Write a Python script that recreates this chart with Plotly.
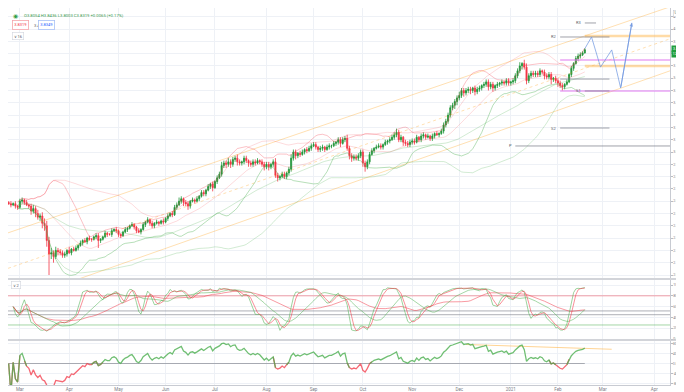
import pandas as pd
import numpy as np
import plotly.graph_objects as go
from plotly.subplots import make_subplots

# ---------------- data (daily bars, Feb 24 2020 -> Feb 17 2021) ----------------
START = "2020-02-24"
first_open = 2.59
close = [
    2.58, 2.57, 2.58, 2.56, 2.55,
    2.60, 2.61, 2.59, 2.57, 2.56,
    2.52, 2.54, 2.50, 2.47, 2.48,
    2.42, 2.40, 2.28, 2.17, 2.18,
    2.15, 2.20, 2.19, 2.18, 2.16,
    2.17, 2.20, 2.18, 2.21, 2.20,
    2.22, 2.24, 2.26, 2.28, 2.27,
    2.30, 2.29, 2.29, 2.31, 2.32,
    2.28, 2.29, 2.31, 2.34, 2.33,
    2.33, 2.36, 2.37, 2.36, 2.33,
    2.32, 2.35, 2.37, 2.38, 2.40,
    2.41, 2.39, 2.36, 2.35, 2.37,
    2.41, 2.43, 2.45, 2.42, 2.40,
    2.42, 2.43, 2.42, 2.44, 2.43,
    2.46, 2.48, 2.50, 2.49, 2.55,
    2.57, 2.60, 2.62, 2.59, 2.58,
    2.56, 2.60, 2.61, 2.60, 2.62,
    2.64, 2.67, 2.66, 2.69, 2.72,
    2.74, 2.71, 2.76, 2.79, 2.82,
    2.89, 2.91, 2.90, 2.92, 2.90,
    2.94, 2.95, 2.92, 2.91, 2.92,
    2.95, 2.93, 2.91, 2.90, 2.92,
    2.91, 2.93, 2.92, 2.90, 2.88,
    2.90, 2.88, 2.90, 2.92, 2.81,
    2.79, 2.80, 2.82, 2.80, 2.83,
    2.86, 2.95, 3.00, 2.97, 2.99,
    2.98, 3.00, 3.02, 3.01, 3.03,
    3.05, 3.06, 3.04, 3.02, 3.03,
    3.04, 3.02, 3.04, 3.05, 3.05,
    3.07, 3.08, 3.10, 3.07, 3.10,
    3.11, 3.03, 2.97, 2.95, 2.96,
    2.95, 2.97, 3.00, 2.91, 2.88,
    2.92, 2.98, 3.01, 3.03, 3.04,
    3.05, 3.04, 3.06, 3.08, 3.09,
    3.10, 3.12, 3.14, 3.16, 3.10,
    3.12, 3.08, 3.07, 3.06, 3.08,
    3.09, 3.08, 3.12, 3.10, 3.13,
    3.14, 3.12, 3.13, 3.11, 3.13,
    3.15, 3.14, 3.15, 3.17, 3.22,
    3.25, 3.30, 3.36, 3.38, 3.41,
    3.44, 3.46, 3.50, 3.48, 3.50,
    3.51, 3.50, 3.52, 3.49, 3.51,
    3.52, 3.54, 3.55, 3.57, 3.53,
    3.55, 3.52, 3.54, 3.55, 3.56,
    3.57, 3.56, 3.58, 3.56, 3.57,
    3.58, 3.62, 3.66, 3.70, 3.72,
    3.69, 3.58, 3.62, 3.64, 3.63,
    3.64, 3.63, 3.66, 3.65, 3.62,
    3.61, 3.63, 3.59, 3.60, 3.58,
    3.56, 3.54, 3.53, 3.55, 3.57,
    3.63, 3.68, 3.72, 3.76, 3.78,
    3.79, 3.8054, 3.8319,
]
up_wick = [
    0.01, 0.02, 0.01, 0.02, 0.01,
    0.02, 0.02, 0.01, 0.02, 0.01,
    0.02, 0.03, 0.02, 0.03, 0.02,
    0.03, 0.04, 0.04, 0.03, 0.04,
    0.02, 0.03, 0.02, 0.02, 0.02,
    0.02, 0.01, 0.03, 0.01, 0.02,
    0.02, 0.01, 0.02, 0.01, 0.02,
    0.01, 0.02, 0.01, 0.01, 0.02,
    0.02, 0.01, 0.01, 0.02, 0.01,
    0.01, 0.02, 0.01, 0.02, 0.01,
    0.01, 0.01, 0.02, 0.01, 0.01,
    0.02, 0.01, 0.01, 0.02, 0.01,
    0.02, 0.01, 0.02, 0.01, 0.02,
    0.01, 0.02, 0.01, 0.01, 0.02,
    0.01, 0.02, 0.01, 0.02, 0.02,
    0.02, 0.03, 0.02, 0.01, 0.02,
    0.02, 0.01, 0.02, 0.01, 0.02,
    0.01, 0.02, 0.02, 0.01, 0.02,
    0.01, 0.02, 0.01, 0.02, 0.02,
    0.03, 0.02, 0.02, 0.03, 0.02,
    0.02, 0.02, 0.03, 0.02, 0.01,
    0.02, 0.02, 0.01, 0.02, 0.02,
    0.02, 0.02, 0.01, 0.02, 0.02,
    0.02, 0.02, 0.01, 0.02, 0.03,
    0.02, 0.01, 0.02, 0.02, 0.01,
    0.02, 0.03, 0.02, 0.02, 0.01,
    0.02, 0.02, 0.01, 0.02, 0.02,
    0.02, 0.02, 0.02, 0.01, 0.02,
    0.02, 0.01, 0.02, 0.02, 0.01,
    0.02, 0.01, 0.02, 0.02, 0.02,
    0.02, 0.03, 0.02, 0.02, 0.02,
    0.02, 0.02, 0.02, 0.02, 0.02,
    0.02, 0.02, 0.02, 0.01, 0.02,
    0.02, 0.02, 0.01, 0.02, 0.01,
    0.02, 0.02, 0.02, 0.03, 0.02,
    0.02, 0.01, 0.02, 0.02, 0.02,
    0.02, 0.02, 0.02, 0.01, 0.02,
    0.02, 0.01, 0.02, 0.01, 0.02,
    0.01, 0.02, 0.01, 0.02, 0.02,
    0.02, 0.02, 0.02, 0.02, 0.02,
    0.02, 0.03, 0.02, 0.02, 0.02,
    0.02, 0.02, 0.01, 0.02, 0.02,
    0.02, 0.01, 0.02, 0.02, 0.02,
    0.02, 0.02, 0.01, 0.02, 0.01,
    0.02, 0.01, 0.02, 0.02, 0.01,
    0.02, 0.02, 0.02, 0.03, 0.01,
    0.03, 0.03, 0.02, 0.02, 0.02,
    0.02, 0.02, 0.02, 0.01, 0.02,
    0.02, 0.02, 0.02, 0.01, 0.02,
    0.02, 0.02, 0.02, 0.01, 0.02,
    0.01, 0.02, 0.01, 0.02, 0.02,
    0.02, 0.0137, 0.0117,
]
lo_wick = [
    0.01, 0.02, 0.01, 0.02, 0.02,
    0.01, 0.02, 0.02, 0.01, 0.02,
    0.03, 0.02, 0.03, 0.02, 0.03,
    0.04, 0.04, 0.05, 0.17, 0.04,
    0.05, 0.02, 0.03, 0.02, 0.02,
    0.02, 0.02, 0.01, 0.02, 0.01,
    0.01, 0.02, 0.01, 0.02, 0.01,
    0.02, 0.01, 0.02, 0.01, 0.02,
    0.06, 0.02, 0.01, 0.01, 0.02,
    0.01, 0.02, 0.01, 0.02, 0.02,
    0.02, 0.01, 0.01, 0.02, 0.01,
    0.01, 0.02, 0.02, 0.01, 0.02,
    0.01, 0.02, 0.01, 0.02, 0.02,
    0.02, 0.01, 0.02, 0.01, 0.02,
    0.01, 0.02, 0.01, 0.02, 0.01,
    0.02, 0.01, 0.02, 0.03, 0.02,
    0.03, 0.02, 0.01, 0.02, 0.01,
    0.02, 0.01, 0.02, 0.02, 0.01,
    0.02, 0.03, 0.01, 0.02, 0.01,
    0.02, 0.02, 0.03, 0.02, 0.03,
    0.02, 0.02, 0.03, 0.02, 0.02,
    0.02, 0.02, 0.03, 0.02, 0.02,
    0.02, 0.01, 0.02, 0.02, 0.03,
    0.02, 0.03, 0.02, 0.02, 0.02,
    0.03, 0.02, 0.01, 0.02, 0.02,
    0.02, 0.02, 0.02, 0.03, 0.02,
    0.02, 0.01, 0.02, 0.02, 0.01,
    0.02, 0.01, 0.02, 0.02, 0.02,
    0.02, 0.02, 0.01, 0.02, 0.02,
    0.01, 0.02, 0.02, 0.03, 0.01,
    0.02, 0.02, 0.03, 0.03, 0.02,
    0.02, 0.02, 0.02, 0.03, 0.04,
    0.02, 0.02, 0.01, 0.02, 0.01,
    0.01, 0.02, 0.02, 0.01, 0.02,
    0.02, 0.01, 0.02, 0.02, 0.02,
    0.02, 0.03, 0.02, 0.02, 0.02,
    0.02, 0.02, 0.01, 0.02, 0.02,
    0.02, 0.02, 0.01, 0.02, 0.02,
    0.02, 0.01, 0.02, 0.01, 0.02,
    0.02, 0.02, 0.02, 0.02, 0.03,
    0.03, 0.02, 0.02, 0.03, 0.02,
    0.02, 0.03, 0.02, 0.03, 0.02,
    0.02, 0.02, 0.02, 0.02, 0.03,
    0.02, 0.03, 0.02, 0.02, 0.02,
    0.02, 0.02, 0.02, 0.02, 0.02,
    0.02, 0.02, 0.02, 0.02, 0.03,
    0.02, 0.03, 0.02, 0.02, 0.02,
    0.02, 0.02, 0.02, 0.02, 0.03,
    0.02, 0.02, 0.04, 0.02, 0.02,
    0.03, 0.02, 0.03, 0.02, 0.01,
    0.01, 0.02, 0.02, 0.01, 0.02,
    0.02, 0.01, 0.0051,
]
month_labels = ["Mar", "Apr", "May", "Jun", "Jul", "Aug", "Sep", "Oct", "Nov", "Dec",
                "2021", "Feb", "Mar", "Apr"]
legend_text = "O3.8054 H3.8436 L3.8003 C3.8319 +0.0065 (+0.17%)"
bid_text, spread_text, ask_text = "3.8319", "3.4", "3.8349"

# drawings (anchor points: bar index, price)
chan_up_idx, chan_up_val = [25, 258], [2.50, 3.95]
chan_lo_idx, chan_lo_val = [175, 295], [2.89, 3.66]
pivot_names = ["R3", "R2", "", "S1", "S2", "P"]
pivot_vals = [4.049, 3.935, 3.593, 3.496, 3.195, 3.049]
pivot_from = [257, 246, 246, 257, 246, 226]
pivot_to = [262, 268, 268, 268, 268, 296]
orange_zone = [3.943, 3.700]
orange_from = 257
violet_zone = [3.748, 3.496]
violet_from = 246
proj_idx = [257, 260, 264, 269, 273, 278]
proj_val = [3.84, 3.935, 3.69, 3.83, 3.52, 4.05]
stoch_levels = [80, 52, 45, 26]
stoch_level_colors = ["rgba(242,54,69,0.45)", "rgba(120,123,134,0.6)",
                      "rgba(120,123,134,0.6)", "rgba(76,175,80,0.5)"]
osc_tl_idx, osc_tl_val = [204, 269], [76, 57]

assert len(close) == len(up_wick) == len(lo_wick)

# ---------------- derived ----------------
n = len(close)
idx = np.arange(n)
c = pd.Series(close, dtype=float)
o = c.shift(1)
o.iloc[0] = first_open
h = pd.concat([o, c], axis=1).max(axis=1) + pd.Series(up_wick)
l = pd.concat([o, c], axis=1).min(axis=1) - pd.Series(lo_wick)

dates = pd.bdate_range(START, periods=310)
month_tick_idx = []
prev = dates[0].month
for i, d in enumerate(dates):
    if d.month != prev:
        month_tick_idx.append(i)
        prev = d.month
month_tick_idx = month_tick_idx[:len(month_labels)]

ma20 = c.rolling(20, min_periods=5).mean()
sd20 = c.rolling(20, min_periods=5).std()
ma50 = c.rolling(50, min_periods=5).mean()
sd50 = c.rolling(50, min_periods=5).std()

hh = h.rolling(14, min_periods=3).max()
ll = l.rolling(14, min_periods=3).min()
k_raw = 100 * (c - ll) / (hh - ll)
fast_k = k_raw.rolling(3, min_periods=1).mean()
fast_d = fast_k.rolling(3, min_periods=1).mean()
slow_g = fast_k.rolling(15, min_periods=1).mean()
slow_r = fast_k.rolling(30, min_periods=1).mean()

delta = c.diff().fillna(0)
gain = delta.clip(lower=0).ewm(alpha=1 / 14, adjust=False).mean()
loss = (-delta.clip(upper=0)).ewm(alpha=1 / 14, adjust=False).mean()
rsi = 100 - 100 / (1 + gain / loss.replace(0, np.nan))
rsi = rsi.fillna(50)
osc = (rsi - 50) * 2.4
pos = osc >= 0
g_mask = pos | pos.shift(1, fill_value=False) | pos.shift(-1, fill_value=False)
r_mask = (~pos) | (~pos).shift(1, fill_value=False) | (~pos).shift(-1, fill_value=False)
osc_g = osc.where(g_mask)
osc_r = osc.where(r_mask)

# ---------------- geometry ----------------
BOTTOM = 15
PW, PH = 662, 392 - BOTTOM
X0, X1 = -0.3, 295.0
Y_MAIN = [1.9756, 4.1707]
Y_ST = [0, 109.3]
Y_OS = [-86, 90]

def px(x):
    return x / PW

def py(y):
    return (PH - y) / PH

GREEN = "#22963a"
RED = "#f23645"
PINK = "rgba(242,54,69,0.30)"
PINK2 = "rgba(242,54,69,0.18)"
LGREEN = "rgba(76,175,80,0.40)"
LGREEN2 = "rgba(76,175,80,0.25)"
ORANGE = "rgba(255,152,0,0.30)"
GRAYTXT = "#7a7e88"
FONT = "Roboto"

fig = make_subplots(rows=3, cols=1, shared_xaxes=True, vertical_spacing=0)

def line(xs, ys, color, width=1, dash=None, row=1):
    fig.add_trace(go.Scatter(x=xs, y=ys, mode="lines",
                             line=dict(color=color, width=width, dash=dash),
                             hoverinfo="skip", connectgaps=False), row=row, col=1)

# channel lines
def extend(ix, iv):
    s = (iv[1] - iv[0]) / (ix[1] - ix[0])
    return lambda x: iv[0] + s * (x - ix[0])

fu = extend(chan_up_idx, chan_up_val)
fl = extend(chan_lo_idx, chan_lo_val)
xx = np.array([X0, X1])
line(xx, fu(xx), ORANGE, 1)
line(xx, fl(xx), ORANGE, 1)
line(xx, (fu(xx) + fl(xx)) / 2, "rgba(255,152,0,0.3)", 1, "dot")

# bands
line(idx, ma50 + 2 * sd50, PINK2)
line(idx, ma50 - 2 * sd50, LGREEN2)
line(idx, ma20 + 2 * sd20, PINK)
line(idx, ma20 - 2 * sd20, LGREEN)
line(idx, ma50, LGREEN2)
line(idx, ma20, "rgba(242,54,69,0.18)")

# horizontal zones
for v in orange_zone:
    line([orange_from, X1], [v, v], "rgba(255,183,77,0.5)", 2.5)
for v in violet_zone:
    line([violet_from, X1], [v, v], "rgba(224,120,240,0.5)", 2)

# pivots
for name, v, a, b in zip(pivot_names, pivot_vals, pivot_from, pivot_to):
    line([a, b], [v, v], "rgba(120,123,134,0.7)", 1)
    if name:
        fig.add_annotation(x=a - 0.8, y=v, xref="x", yref="y", text=name,
                           showarrow=False, xanchor="right", yanchor="middle",
                           font=dict(size=4, color="#555a63", family=FONT))

# candles
fig.add_trace(go.Candlestick(x=idx, open=o, high=h, low=l, close=c,
                             increasing=dict(line=dict(color=GREEN, width=0.8), fillcolor=GREEN),
                             decreasing=dict(line=dict(color=RED, width=0.8), fillcolor=RED),
                             whiskerwidth=0, hoverinfo="skip"), row=1, col=1)

# projection path
PROJ = "rgba(110,150,225,0.8)"
line(proj_idx, proj_val, PROJ, 0.9)
fig.add_annotation(x=proj_idx[-1], y=proj_val[-1], ax=proj_idx[-2], ay=proj_val[-2],
                   xref="x", yref="y", axref="x", ayref="y", showarrow=True,
                   arrowhead=2, arrowsize=0.8, arrowwidth=0.9, arrowcolor=PROJ,
                   text="")

# stochastic panel
for v, col in zip(stoch_levels, stoch_level_colors):
    line([X0, X1], [v, v], col, 1, row=2)
line(idx, slow_r, "rgba(242,54,69,0.5)", 1, row=2)
line(idx, slow_g, "rgba(76,175,80,0.5)", 1, row=2)
line(idx, fast_k, "rgba(76,175,80,0.55)", 1, row=2)
line(idx, fast_d, "rgba(242,54,69,0.55)", 1, row=2)

# oscillator panel
line([0, n - 1], [0, 0], "rgba(120,123,134,0.6)", 1, row=3)
line(osc_tl_idx, osc_tl_val, "rgba(255,183,77,0.6)", 1, row=3)
line(idx, osc_r, "rgba(242,54,69,0.75)", 1.3, row=3)
line(idx, osc_g, "rgba(76,175,80,0.8)", 1.3, row=3)

# ---------------- axes ----------------
axis_common = dict(showgrid=True, gridcolor="#eef1f6", gridwidth=1, zeroline=False)
for r in (1, 2, 3):
    fig.update_xaxes(range=[X0, X1], tickvals=month_tick_idx, ticktext=month_labels,
                     showline=(r == 3), linecolor="#c8cbd2", ticks="", row=r, col=1,
                     tickfont=dict(size=4.5, color=GRAYTXT, family=FONT),
                     rangeslider=dict(visible=False), **axis_common)

def ycommon(size):
    return dict(side="right", ticks="outside", ticklen=1.5, tickcolor="#b8bcc5",
                showline=True, linecolor="#c8cbd2",
                tickfont=dict(size=size, color=GRAYTXT, family=FONT), **axis_common)

main_ticks = [round(2.0 + 0.1 * i, 1) for i in range(22)]
main_text = ["" if abs(v - 3.8) < 1e-9 else f"{v:.4f}" for v in main_ticks]
fig.update_yaxes(range=Y_MAIN, tickvals=main_ticks, ticktext=main_text,
                 row=1, col=1, **ycommon(3.5))
st_ticks = [0, 20, 40, 60, 80, 100]
fig.update_yaxes(range=Y_ST, tickvals=st_ticks,
                 ticktext=[f"{v:.2f}" for v in st_ticks], row=2, col=1, **ycommon(3.5))
os_ticks = [-80, -40, 0, 40, 80]
fig.update_yaxes(range=Y_OS, tickvals=os_ticks,
                 ticktext=[f"{v:.4f}" for v in os_ticks], row=3, col=1, **ycommon(3.0))

fig.update_layout(
    yaxis=dict(domain=[py(270), 1]),
    yaxis2=dict(domain=[py(331), py(272)]),
    yaxis3=dict(domain=[0, py(333)]),
)

# separators
for ysep in (271, 332):
    fig.add_shape(type="line", xref="paper", yref="paper", x0=0, x1=684 / PW,
                  y0=py(ysep), y1=py(ysep), line=dict(color="#c3c6cd", width=1.5))

# ---------------- texts ----------------
def ann(x, y, text, size=4.2, color=GRAYTXT, xanchor="left", **kw):
    fig.add_annotation(x=px(x), y=py(y), xref="paper", yref="paper", text=text,
                       showarrow=False, xanchor=xanchor, yanchor="middle",
                       font=dict(size=size, color=color, family=FONT), **kw)

ann(7, 7, "◉", size=6, color="#2e9e46", xanchor="center")
ann(14, 7, legend_text, size=4.2, color="#3c9a4f")
ann(4, 17, bid_text, size=4, color=RED, bordercolor="#f6a5ab", borderwidth=0.8,
    borderpad=1.5, bgcolor="white")
ann(24, 17, spread_text, size=4, color="#555a63")
ann(30, 17, ask_text, size=4, color="#2962ff", bordercolor="#a8c1f5", borderwidth=0.8,
    borderpad=1.5, bgcolor="white")
ann(4, 28, "∨ 16", size=4, color="#555a63", bordercolor="#d1d4dc", borderwidth=0.6,
    borderpad=1, bgcolor="white")
ann(3, 277, "∨ 2", size=4, color="#555a63", bordercolor="#d1d4dc", borderwidth=0.6,
    borderpad=1, bgcolor="white")
ann(665, 5, "USD", size=3.6, color="#555a63", bordercolor="#c8cbd2", borderwidth=0.6,
    borderpad=0.8, bgcolor="white")
ann(663, 40.5, f"{close[-1]:.4f}", size=3.6, color="white", bgcolor="#1f9e3d",
    borderpad=1)
ann(663, 46.5, "12:09:15", size=3.3, color="white", bgcolor="#1f9e3d", borderpad=0.8)
ann(672, 382, "⚙", size=4.5, color="#9598a1", xanchor="center")

fig.update_layout(
    width=684, height=392,
    margin=dict(l=0, r=22, t=0, b=BOTTOM),
    paper_bgcolor="white", plot_bgcolor="white",
    showlegend=False, hovermode=False,
    font=dict(family=FONT),
)

fig.write_html("out.html")
